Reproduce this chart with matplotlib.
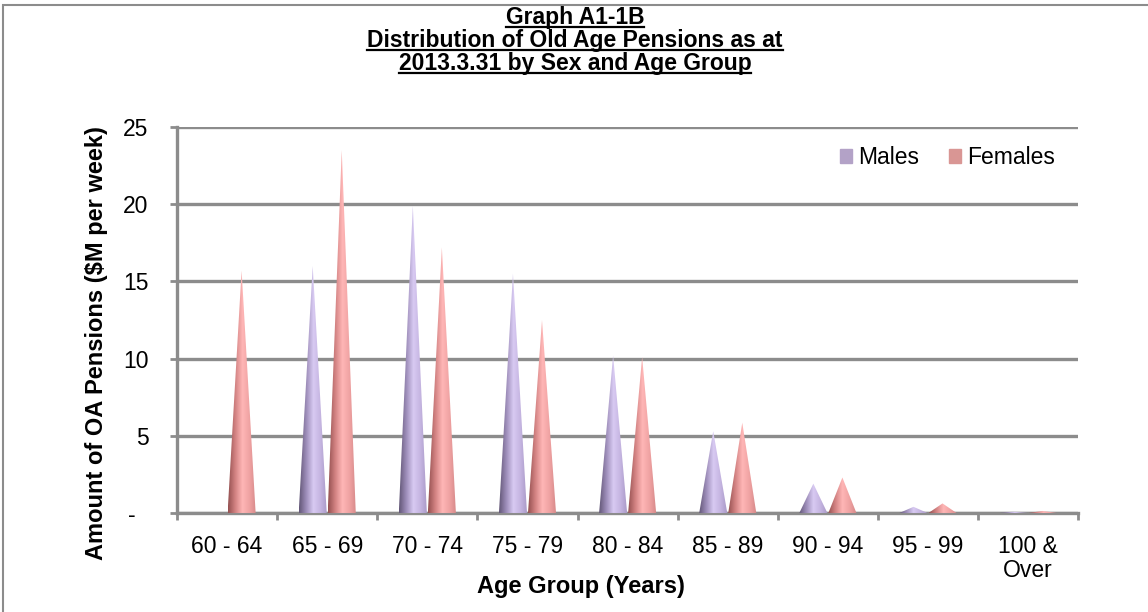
import numpy as np
import matplotlib
matplotlib.use("Agg")
import matplotlib.pyplot as plt
from matplotlib.patches import Polygon, Rectangle
from matplotlib.colors import LinearSegmentedColormap
from matplotlib.lines import Line2D

plt.rcParams['font.family'] = ['Liberation Sans', 'DejaVu Sans']

groups = ["60 - 64", "65 - 69", "70 - 74", "75 - 79", "80 - 84",
          "85 - 89", "90 - 94", "95 - 99", "100 &\nOver"]
males = [0.0, 16.0, 19.9, 15.5, 10.2, 5.3, 1.9, 0.4, 0.08]
females = [15.7, 23.5, 17.2, 12.5, 10.1, 5.85, 2.3, 0.62, 0.13]
yticks = [0, 5, 10, 15, 20, 25]
ylabels = ["-  ", "5", "10", "15", "20", "25"]

male_cm = LinearSegmentedColormap.from_list("m", ["#625676", "#9d8db9", "#d8caf2", "#c4b4e0", "#a796c4"])
fem_cm = LinearSegmentedColormap.from_list("f", ["#935050", "#d28282", "#ffb6b6", "#efa2a2", "#d48686"])

fig = plt.figure(figsize=(11.48, 6.12), dpi=100)
ax = fig.add_axes([0.1542, 0.1618, 0.7850, 0.6307])

grad = np.linspace(0, 1, 256).reshape(1, -1)
w = 0.14
for i, (m, f) in enumerate(zip(males, females)):
    for val, off, cm in ((m, -0.145, male_cm), (f, 0.145, fem_cm)):
        if val <= 0:
            continue
        cx = i + off
        tri = Polygon([[cx - w, 0], [cx + w, 0], [cx, val]], closed=True,
                      facecolor="none", edgecolor="none", zorder=3)
        ax.add_patch(tri)
        im = ax.imshow(grad, cmap=cm, aspect="auto", extent=[cx - w, cx + w, 0, val],
                       zorder=3, interpolation="bilinear")
        im.set_clip_path(tri)

ax.set_xlim(-0.5, 8.5)
ax.set_ylim(0, 25)

ax.set_yticks(yticks)
ax.set_yticklabels(ylabels, fontsize=16.5)
ax.set_xticks(range(len(groups)))
ax.set_xticklabels(groups, fontsize=16.5, linespacing=1.05, va="top")
ax.set_xticks(np.arange(-0.5, 9, 1), minor=True)
ax.tick_params(axis="x", which="major", length=0, pad=16)
ax.tick_params(axis="x", which="minor", length=5, width=2, color="#8c8c8c")
ax.tick_params(axis="y", length=5, width=2, color="#8c8c8c", pad=15.5)

ax.yaxis.grid(True, color="#8c8c8c", lw=2.4, zorder=1)
ax.set_axisbelow(True)
for s in ("top", "right"):
    ax.spines[s].set_visible(False)
for s in ("left", "bottom"):
    ax.spines[s].set_color("#8c8c8c")
    ax.spines[s].set_linewidth(2.4)

fig.text(97 / 1148, 1 - 343 / 612, "Amount of OA Pensions ($M per week)", rotation=90,
         ha="center", va="center", fontsize=17, fontweight="bold")
fig.text(581 / 1148, 1 - 586 / 612, "Age Group (Years)", ha="center", va="center",
         fontsize=17, fontweight="bold")

handles = [Rectangle((0, 0), 1, 1, color="#b3a2c7"), Rectangle((0, 0), 1, 1, color="#d99694")]
ax.legend(handles, ["Males", "Females"], loc="center right", bbox_to_anchor=(0.992, 0.92),
          ncol=2, frameon=False, fontsize=16.5, handlelength=0.55, handleheight=0.55,
          handletextpad=0.25, columnspacing=1.3, borderpad=0.2)

title_lines = ["Graph A1-1B", "Distribution of Old Age Pensions as at", "2013.3.31 by Sex and Age Group"]
title_base = [24, 47, 70]
texts = [fig.text(575 / 1148, 1 - b / 612, t, ha="center", va="baseline", fontsize=16.5, fontweight="bold")
         for t, b in zip(title_lines, title_base)]
fig.canvas.draw()
r = fig.canvas.get_renderer()
for t, b in zip(texts, title_base):
    bb = t.get_window_extent(r).transformed(fig.transFigure.inverted())
    yy = 1 - (b + 2.5) / 612
    fig.add_artist(Line2D([bb.x0, bb.x1], [yy, yy], transform=fig.transFigure, color="black", lw=1.6))

fig.add_artist(Rectangle((3 / 1148, -0.02), 1.0, 1 - 5 / 612 + 0.02, transform=fig.transFigure,
                         fill=False, edgecolor="#8c8c8c", lw=1.5))

fig.savefig("out.png", dpi=100)
